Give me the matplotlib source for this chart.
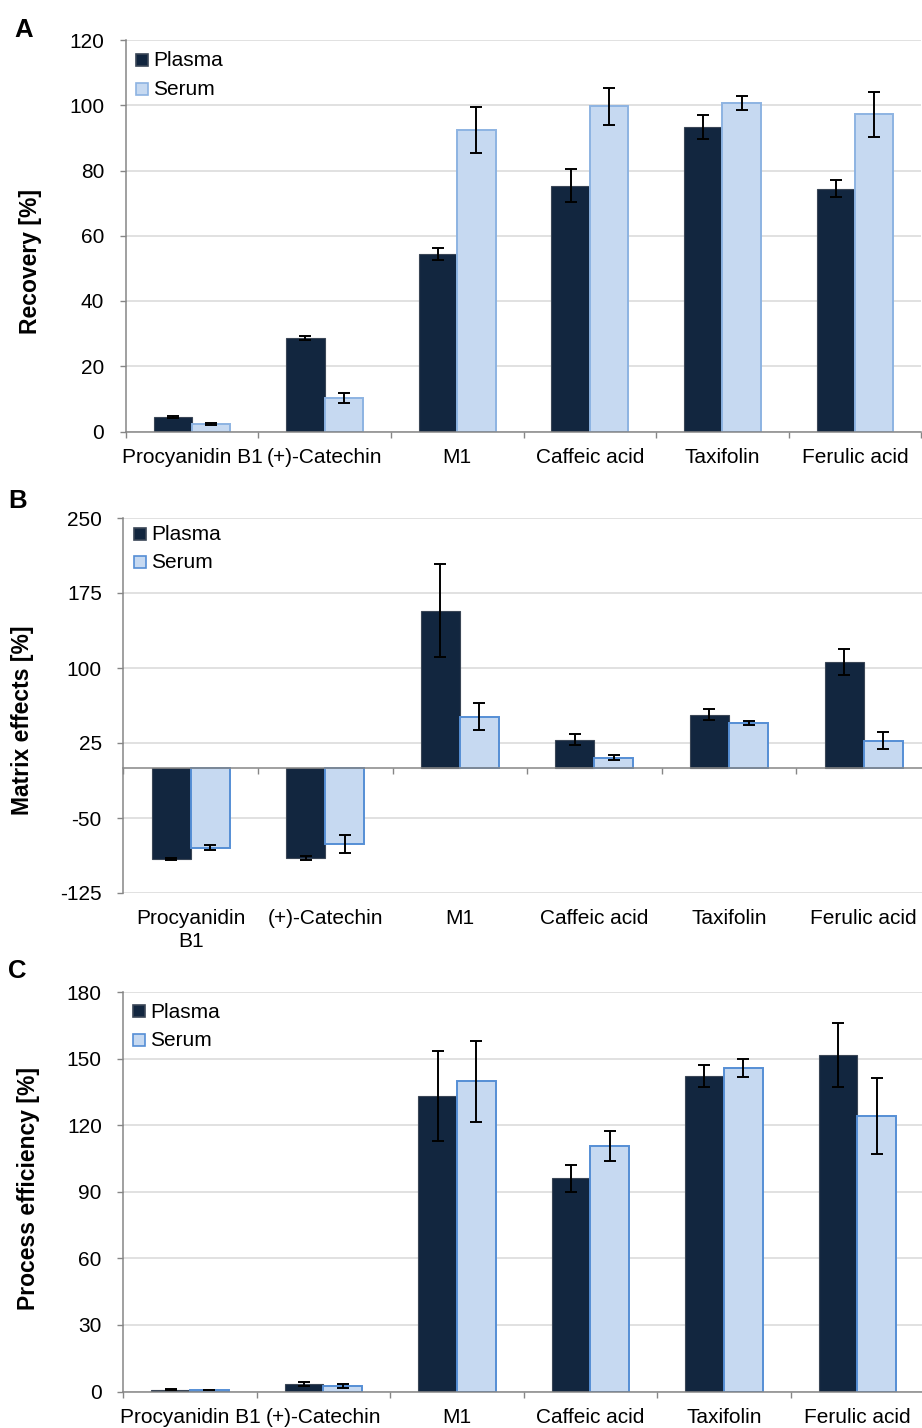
import numpy as np
import matplotlib
matplotlib.use("Agg")
import matplotlib.pyplot as plt
from matplotlib.patches import Rectangle
from matplotlib.transforms import blended_transform_factory, offset_copy

plt.rcParams['font.family'] = ['Liberation Sans', 'DejaVu Sans']
plt.rcParams['axes.unicode_minus'] = False

# ---- data ----
categories = ["Procyanidin B1", "(+)-Catechin", "M1", "Caffeic acid", "Taxifolin", "Ferulic acid"]
categories_b = ["Procyanidin\nB1", "(+)-Catechin", "M1", "Caffeic acid", "Taxifolin", "Ferulic acid"]
series = ["Plasma", "Serum"]

recovery_plasma = [4.5, 28.6, 54.3, 75.4, 93.4, 74.4]
recovery_plasma_sd = [0.4, 0.7, 1.8, 5.2, 3.7, 2.6]
recovery_serum = [2.4, 10.2, 92.4, 99.7, 100.7, 97.2]
recovery_serum_sd = [0.3, 1.5, 7.1, 5.7, 2.1, 7.0]

matrix_plasma = [-90.5, -90.0, 157.5, 28.4, 53.4, 106.0]
matrix_plasma_sd = [1.0, 2.2, 46.8, 5.2, 5.8, 13.3]
matrix_serum = [-79.5, -76.0, 51.4, 10.4, 45.0, 27.4]
matrix_serum_sd = [2.3, 9.3, 13.3, 2.3, 2.2, 8.5]

process_plasma = [0.8, 3.4, 133.0, 96.0, 142.2, 151.6]
process_plasma_sd = [0.2, 0.9, 20.3, 6.2, 5.0, 14.4]
process_serum = [0.7, 2.6, 139.7, 110.6, 145.6, 124.1]
process_serum_sd = [0.2, 0.8, 18.2, 6.9, 4.1, 17.0]

yticks_a = [0, 20, 40, 60, 80, 100, 120]
yticks_b = [-125, -50, 25, 100, 175, 250]
yticks_c = [0, 30, 60, 90, 120, 150, 180]

# ---- style ----
W, H = 922, 1428
PLASMA = "#12263F"
PLASMA_EDGE = "#3A4656"
SERUM = "#C6D9F1"
SERUM_EDGE_A = "#8DB3E2"
SERUM_EDGE = "#558ED5"
GRID = "#D9D9D9"
AXIS = "#868686"
FS = 15
BAR_W = 0.29

fig = plt.figure(figsize=(W / 100, H / 100), dpi=100)


def px_axes(left, top, right, bottom):
    return fig.add_axes([left / W, 1 - bottom / H, (right - left) / W, (bottom - top) / H])


def draw_panel(ax, pl, pl_sd, se, se_sd, yticks, serum_edge, labels, zero_axis=False):
    x = np.arange(len(labels)) + 0.5
    ax.bar(x - BAR_W / 2, pl, BAR_W, color=PLASMA, edgecolor=PLASMA_EDGE, linewidth=0.8, zorder=2)
    ax.bar(x + BAR_W / 2, se, BAR_W, color=SERUM, edgecolor=serum_edge, linewidth=1.4, zorder=2)
    ekw = dict(fmt="none", ecolor="black", elinewidth=1.4, capsize=4.3, capthick=1.4, zorder=3)
    ax.errorbar(x - BAR_W / 2, pl, yerr=pl_sd, **ekw)
    ax.errorbar(x + BAR_W / 2, se, yerr=se_sd, **ekw)

    ax.set_xlim(0, len(labels))
    ax.set_ylim(yticks[0], yticks[-1])
    ax.set_yticks(yticks)
    ax.set_xticks(np.arange(len(labels) + 1))
    ax.tick_params(axis="x", labelbottom=False, direction="out", length=4.5, width=1.0, color=AXIS)
    ax.tick_params(axis="y", direction="out", length=4.5, width=1.0, color=AXIS,
                   labelsize=FS, pad=11)
    ax.yaxis.grid(True, color=GRID, linewidth=1.1)
    ax.set_axisbelow(True)
    for s in ("top", "right"):
        ax.spines[s].set_visible(False)
    for s in ("left", "bottom"):
        ax.spines[s].set_color(AXIS)
        ax.spines[s].set_linewidth(1.1)
    if zero_axis:
        ax.spines["bottom"].set_position(("data", 0))

    # category names sit under the plot area
    tr = offset_copy(blended_transform_factory(ax.transData, ax.transAxes),
                     fig=fig, x=0, y=-16.5, units="dots")
    for xi, lab in zip(x, labels):
        ax.text(xi, 0, lab, transform=tr, ha="center", va="top",
                fontsize=FS, multialignment="center", linespacing=1.25)


def draw_legend(x0, base1, step, serum_edge):
    for i, (name, fc, ec) in enumerate([(series[0], PLASMA, PLASMA_EDGE),
                                        (series[1], SERUM, serum_edge)]):
        b = base1 + i * step
        fig.add_artist(Rectangle((x0 / W, 1 - b / H), 12 / W, 12 / H,
                                 transform=fig.transFigure, facecolor=fc,
                                 edgecolor=ec, linewidth=1.2))
        fig.text((x0 + 17) / W, 1 - (b + 0.5) / H, name, fontsize=FS, va="baseline", ha="left")


# Panel A: recovery
axA = px_axes(125.7, 40, 921.3, 431.5)
draw_panel(axA, recovery_plasma, recovery_plasma_sd, recovery_serum, recovery_serum_sd,
           yticks_a, SERUM_EDGE_A, categories)
draw_legend(136, 65.5, 29, SERUM_EDGE_A)
fig.text(31 / W, 1 - 262 / H, "Recovery [%]", rotation=90, ha="center", va="center",
         fontsize=16.5, fontweight="bold")
fig.text(14 / W, 1 - 30 / H, "A", ha="left", va="center", fontsize=18.5, fontweight="bold")

# Panel B: matrix effects
axB = px_axes(123.3, 518, 930.9, 893)
draw_panel(axB, matrix_plasma, matrix_plasma_sd, matrix_serum, matrix_serum_sd,
           yticks_b, SERUM_EDGE, categories_b, zero_axis=True)
draw_legend(134, 539.5, 28.5, SERUM_EDGE)
fig.text(22 / W, 1 - 720 / H, "Matrix effects [%]", rotation=90, ha="center", va="center",
         fontsize=16.5, fontweight="bold")
fig.text(8 / W, 1 - 501 / H, "B", ha="left", va="center", fontsize=18.5, fontweight="bold")

# Panel C: process efficiency
axC = px_axes(123.3, 992, 924, 1391.5)
draw_panel(axC, process_plasma, process_plasma_sd, process_serum, process_serum_sd,
           yticks_c, SERUM_EDGE, categories)
draw_legend(133, 1017, 29, SERUM_EDGE)
fig.text(28 / W, 1 - 1189 / H, "Process efficiency [%]", rotation=90, ha="center", va="center",
         fontsize=16.5, fontweight="bold")
fig.text(8 / W, 1 - 971 / H, "C", ha="left", va="center", fontsize=18.5, fontweight="bold")

fig.savefig("out.png", dpi=100)
